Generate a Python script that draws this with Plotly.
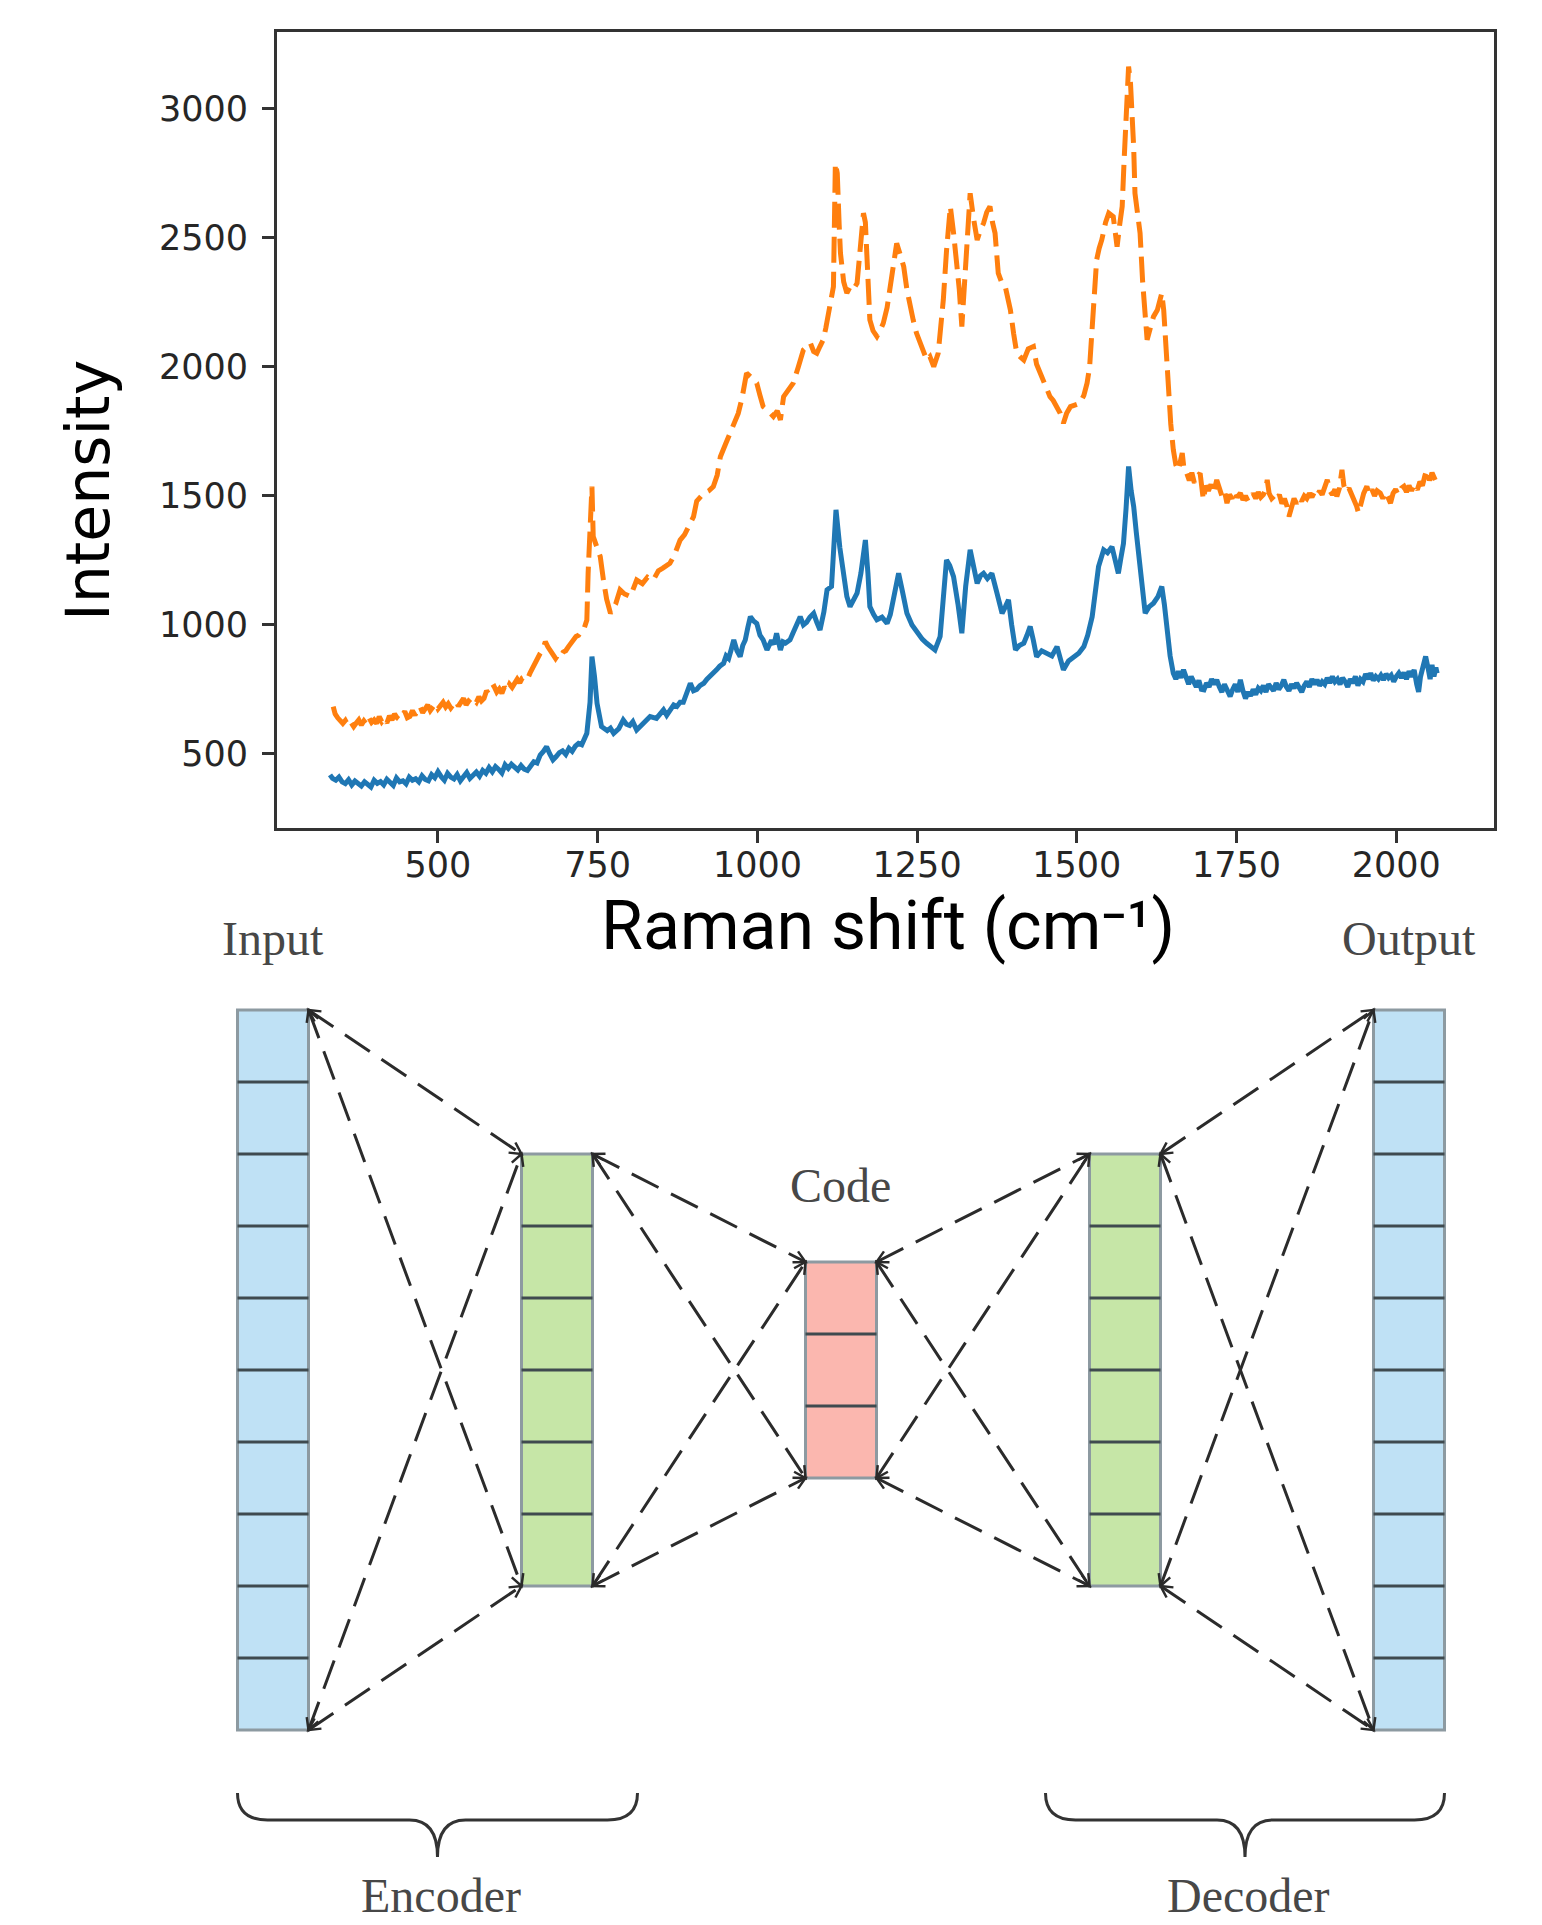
import math
import plotly.graph_objects as go

W, H = 1542, 1925

# ---------------- spectrum data, (Raman shift, intensity) ----------------
blue_low = [(331, 419), (335, 405), (340, 398), (345, 410), (350, 392), (355, 385), (360, 400), (365, 380),
            (370, 395), (375, 388), (380, 376), (385, 392), (390, 384), (395, 372), (400, 398), (405, 386),
            (410, 393), (415, 380), (420, 402), (425, 390), (430, 378), (435, 407), (440, 392), (445, 396),
            (450, 384), (455, 410), (460, 398), (465, 404), (470, 392), (475, 415), (480, 401), (485, 396),
            (490, 420), (495, 408), (500, 431), (505, 412), (510, 398), (515, 425), (520, 410), (525, 403),
            (530, 420), (535, 396), (540, 415), (545, 428), (550, 405), (555, 419), (560, 430), (565, 414),
            (570, 436), (575, 425), (580, 447), (585, 431), (590, 451), (595, 440), (600, 426), (605, 458),
            (610, 444), (615, 460), (620, 447), (625, 438), (630, 455), (635, 441), (640, 436), (645, 452),
            (650, 470), (655, 465), (660, 496), (665, 510), (670, 528), (675, 500), (680, 477), (685, 490),
            (690, 505), (695, 512), (700, 498), (705, 522), (710, 510), (715, 530), (720, 541), (725, 536),
            (730, 560)]
blue_mid = [(733, 580), (738, 700), (741, 877), (745, 800), (749, 696), (756, 606), (765, 590), (770, 600),
            (775, 580), (783, 598), (790, 632), (795, 615), (800, 610), (805, 625), (811, 593), (820, 615),
            (826, 630), (832, 645), (842, 638), (848, 660), (853, 671), (858, 650), (863, 665), (869, 690),
            (874, 684), (879, 700), (884, 700), (890, 735), (895, 774), (900, 745), (905, 750), (910, 765),
            (916, 774), (921, 790), (926, 800), (931, 815), (936, 826), (941, 840), (947, 851), (951, 880),
            (955, 870), (959, 905), (963, 942), (968, 900), (973, 877), (977, 920), (981, 942), (985, 990),
            (989, 1032), (994, 1015), (999, 1006), (1004, 960), (1009, 942), (1015, 903), (1022, 940),
            (1026, 925), (1030, 968), (1036, 903), (1040, 935), (1044, 930), (1051, 942), (1055, 965),
            (1059, 985), (1063, 1010), (1067, 1032), (1072, 1000), (1077, 1010), (1082, 1030), (1088, 1045),
            (1093, 1010), (1098, 980), (1104, 1050), (1109, 1136), (1116, 1149), (1123, 1446), (1129, 1300),
            (1135, 1187), (1140, 1110), (1145, 1071), (1150, 1100), (1156, 1123), (1162, 1200), (1169, 1329),
            (1173, 1200), (1176, 1071), (1182, 1040), (1187, 1020), (1195, 1030), (1203, 1006), (1208, 1040),
            (1213, 1097), (1221, 1200), (1227, 1130), (1234, 1045), (1242, 1000), (1250, 968), (1258, 945),
            (1265, 929), (1272, 915), (1278, 903), (1286, 955), (1291, 1100), (1296, 1252), (1301, 1230),
            (1307, 1187), (1314, 1080), (1320, 968), (1326, 1150), (1333, 1291), (1339, 1220), (1344, 1161),
            (1349, 1190), (1354, 1200), (1360, 1180), (1367, 1200), (1375, 1123), (1383, 1045), (1388, 1070),
            (1393, 1097), (1398, 1000), (1404, 903), (1410, 920), (1417, 929), (1422, 960), (1427, 994),
            (1432, 940), (1437, 877), (1445, 900), (1453, 890), (1461, 880), (1469, 916), (1474, 870),
            (1479, 826), (1487, 860), (1495, 877), (1503, 890), (1511, 916), (1517, 960), (1524, 1032),
            (1529, 1130), (1534, 1226), (1542, 1291), (1548, 1280), (1555, 1303), (1560, 1260), (1565, 1200),
            (1569, 1260), (1573, 1316), (1577, 1450), (1581, 1614), (1585, 1520), (1589, 1459), (1593, 1360),
            (1597, 1278), (1602, 1150), (1607, 1045), (1613, 1070), (1620, 1084), (1627, 1110), (1633, 1149),
            (1637, 1080), (1641, 968), (1646, 880)]
blue_tail = [(1651, 813), (1655, 790), (1659, 820), (1663, 795), (1667, 826), (1671, 790), (1675, 770),
             (1679, 800), (1683, 774), (1687, 760), (1691, 785), (1695, 750), (1699, 748), (1703, 775),
             (1707, 760), (1711, 790), (1715, 770), (1719, 787), (1723, 760), (1727, 740), (1731, 770),
             (1735, 745), (1740, 723), (1744, 750), (1748, 770), (1752, 740), (1756, 787), (1760, 745),
             (1764, 715), (1768, 740), (1772, 725), (1776, 750), (1780, 730), (1784, 755), (1788, 745),
             (1792, 765), (1796, 740), (1800, 770), (1804, 760), (1808, 745), (1812, 775), (1816, 750),
             (1820, 765), (1824, 787), (1828, 760), (1832, 745), (1836, 770), (1840, 755), (1844, 775),
             (1848, 760), (1852, 740), (1856, 765), (1860, 780), (1864, 760), (1868, 790), (1872, 770),
             (1876, 787), (1880, 765), (1884, 780), (1888, 770), (1892, 795), (1896, 775), (1900, 800),
             (1904, 780), (1908, 790), (1912, 770), (1916, 795), (1920, 780), (1924, 760), (1928, 790),
             (1932, 775), (1936, 800), (1940, 765), (1944, 790), (1948, 780), (1952, 810), (1956, 790),
             (1960, 813), (1964, 785), (1968, 800), (1972, 790), (1976, 805), (1980, 787), (1984, 810),
             (1988, 795), (1992, 805), (1996, 780), (2000, 800), (2004, 813), (2008, 795), (2012, 815),
             (2016, 790), (2020, 820), (2024, 800), (2028, 826), (2032, 770), (2035, 740), (2038, 800),
             (2042, 845), (2046, 878), (2050, 830), (2053, 790), (2056, 845), (2059, 800), (2062, 835),
             (2064, 813)]

orange_low = [(336, 683), (339, 655), (343, 640), (347, 632), (351, 618), (355, 630), (359, 612), (363, 625),
              (368, 606), (372, 620), (376, 632), (380, 612), (384, 628), (388, 615), (392, 640), (396, 622),
              (400, 632), (404, 618), (408, 645), (412, 625), (416, 638), (420, 620), (424, 648), (428, 632),
              (432, 655), (436, 640), (440, 632), (444, 650), (448, 665), (452, 640), (456, 645), (460, 668),
              (464, 650), (468, 675), (472, 683), (476, 660), (480, 672), (484, 690), (488, 668), (492, 680),
              (496, 695), (500, 675), (504, 690), (508, 700), (512, 682), (516, 695), (520, 678), (524, 696),
              (528, 705), (532, 685), (536, 700), (540, 715), (544, 690), (548, 705), (552, 696), (556, 710),
              (560, 700), (564, 722), (568, 705), (572, 715), (576, 745), (580, 730), (584, 755), (588, 761),
              (592, 740), (596, 752), (600, 735), (604, 760), (608, 745), (612, 770), (616, 758), (620, 774),
              (624, 790), (628, 775), (632, 795), (636, 800), (640, 790), (644, 813), (648, 835), (652, 850),
              (656, 870), (660, 890), (664, 905), (668, 935), (672, 915), (676, 900), (680, 890), (684, 870),
              (688, 885), (692, 877), (696, 895), (700, 900), (704, 915), (708, 930), (712, 942), (716, 955),
              (720, 960), (724, 975), (728, 981), (731, 1000), (733, 1019)]
orange_mid = [(735, 1200), (738, 1400), (741, 1536), (743, 1342), (748, 1300), (754, 1265), (759, 1174),
              (764, 1100), (770, 1045), (778, 1080), (785, 1136), (792, 1120), (801, 1110), (806, 1150),
              (811, 1174), (820, 1160), (828, 1185), (837, 1174), (845, 1210), (852, 1220), (863, 1239),
              (870, 1270), (879, 1329), (886, 1350), (895, 1394), (900, 1420), (905, 1480), (910, 1497),
              (916, 1510), (924, 1520), (931, 1536), (937, 1580), (942, 1652), (950, 1700), (957, 1743),
              (963, 1770), (970, 1820), (976, 1880), (983, 1976), (990, 1960), (999, 1937), (1004, 1890),
              (1009, 1846), (1017, 1830), (1025, 1808), (1031, 1830), (1036, 1795), (1041, 1885), (1048, 1910),
              (1056, 1937), (1064, 2000), (1072, 2066), (1078, 2080), (1083, 2092), (1088, 2060), (1093, 2053),
              (1098, 2080), (1103, 2105), (1107, 2150), (1111, 2208), (1116, 2260), (1119, 2311), (1122, 2789),
              (1125, 2750), (1128, 2550), (1130, 2441), (1135, 2330), (1140, 2286), (1145, 2310), (1150, 2300),
              (1156, 2324), (1161, 2450), (1166, 2596), (1169, 2560), (1171, 2415), (1176, 2182), (1181, 2140),
              (1187, 2118), (1192, 2140), (1197, 2169), (1203, 2230), (1208, 2311), (1213, 2400), (1218, 2479),
              (1223, 2440), (1229, 2389), (1234, 2300), (1239, 2234), (1244, 2180), (1249, 2131), (1256, 2080),
              (1265, 2027), (1270, 2040), (1276, 2001), (1283, 2053), (1287, 2150), (1291, 2260), (1296, 2450),
              (1302, 2622), (1307, 2520), (1312, 2415), (1316, 2300), (1320, 2156), (1325, 2389), (1329, 2550),
              (1333, 2673), (1338, 2580), (1344, 2492), (1349, 2530), (1354, 2557), (1359, 2600), (1364, 2622),
              (1368, 2560), (1372, 2518), (1377, 2363), (1382, 2330), (1388, 2311), (1392, 2260), (1396, 2221),
              (1401, 2130), (1406, 2053), (1411, 2040), (1417, 2027), (1424, 2070), (1432, 2079), (1437, 2010),
              (1443, 1976), (1450, 1930), (1458, 1885), (1463, 1870), (1469, 1846), (1474, 1820), (1479, 1782),
              (1484, 1820), (1490, 1846), (1497, 1850), (1505, 1859), (1511, 1890), (1516, 1937), (1520, 2000),
              (1524, 2131), (1528, 2300), (1531, 2415), (1535, 2460), (1539, 2492), (1545, 2560), (1550, 2596),
              (1557, 2583), (1563, 2466), (1567, 2550), (1571, 2622), (1574, 2800), (1576, 2932), (1579, 3080),
              (1581, 3164), (1584, 3100), (1586, 3022), (1589, 2850), (1591, 2673), (1595, 2600), (1599, 2518),
              (1603, 2330), (1607, 2156), (1610, 2105), (1615, 2150), (1620, 2195), (1626, 2220), (1633, 2286),
              (1636, 2220), (1638, 2131), (1641, 2000), (1644, 1898), (1647, 1780)]
orange_tail = [(1651, 1679), (1655, 1620), (1659, 1600), (1662, 1640), (1665, 1666), (1668, 1600), (1672, 1588),
               (1676, 1560), (1680, 1590), (1684, 1550), (1688, 1575), (1693, 1588), (1696, 1530), (1698, 1485),
               (1702, 1540), (1706, 1520), (1710, 1545), (1714, 1510), (1719, 1562), (1723, 1530), (1727, 1500),
               (1731, 1520), (1735, 1472), (1739, 1505), (1743, 1490), (1747, 1520), (1751, 1495), (1756, 1511),
               (1760, 1485), (1764, 1500), (1768, 1480), (1772, 1485), (1776, 1510), (1780, 1490), (1784, 1515),
               (1788, 1495), (1792, 1505), (1796, 1530), (1798, 1562), (1801, 1510), (1805, 1490), (1809, 1500),
               (1813, 1485), (1817, 1505), (1821, 1470), (1825, 1490), (1829, 1460), (1832, 1420), (1836, 1465),
               (1840, 1490), (1844, 1470), (1848, 1495), (1852, 1480), (1856, 1500), (1860, 1490), (1864, 1510),
               (1868, 1495), (1872, 1515), (1876, 1500), (1880, 1520), (1884, 1505), (1888, 1530), (1892, 1562),
               (1896, 1520), (1900, 1505), (1904, 1525), (1907, 1498), (1911, 1530), (1915, 1601), (1918, 1540),
               (1922, 1515), (1926, 1530), (1930, 1505), (1934, 1490), (1938, 1460), (1941, 1433), (1945, 1480),
               (1949, 1510), (1954, 1537), (1958, 1505), (1962, 1525), (1966, 1500), (1970, 1520), (1975, 1511),
               (1979, 1490), (1983, 1515), (1987, 1495), (1991, 1472), (1995, 1510), (1999, 1525), (2003, 1505),
               (2008, 1530), (2012, 1537), (2016, 1515), (2020, 1540), (2024, 1520), (2028, 1545), (2033, 1524),
               (2037, 1555), (2041, 1540), (2045, 1580), (2048, 1601), (2052, 1560), (2056, 1590), (2061, 1562)]

blue_x = [p[0] for p in blue_low + blue_mid + blue_tail]
blue_y = [p[1] for p in blue_low + blue_mid + blue_tail]
orange_x = [p[0] for p in orange_low + orange_mid + orange_tail]
orange_y = [p[1] for p in orange_low + orange_mid + orange_tail]

x_ticks = [500, 750, 1000, 1250, 1500, 1750, 2000]
y_ticks = [500, 1000, 1500, 2000, 2500, 3000]
x_title = "Raman shift (cm\u207b\u00b9)"
y_title = "Intensity"

# ---------------- autoencoder diagram data ----------------
layer_cells = [10, 6, 3, 6, 10]
layer_fill = ["#bfe1f5", "#c6e6a7", "#fbb7af", "#c6e6a7", "#bfe1f5"]
layer_labels = ["Input", "", "Code", "", "Output"]
group_labels = ["Encoder", "Decoder"]

# ---------------- layout geometry (pixels) ----------------
PLOT_L, PLOT_R, PLOT_T, PLOT_B = 277, 1494, 32, 828
X_RANGE = [248, 2153]
Y_RANGE = [213, 3298]

CX0, DX, BOX_W, CELL_H, CY = 273, 284, 71, 72, 1370


def P(px, py):
    return px / W, 1 - py / H


fig = go.Figure()
fig.add_trace(go.Scatter(x=blue_x, y=blue_y, mode="lines",
                         line=dict(color="#1f77b4", width=5), showlegend=False))
fig.add_trace(go.Scatter(x=orange_x, y=orange_y, mode="lines",
                         line=dict(color="#ff7f0e", width=5, dash="26px,9px"), showlegend=False))

axis_common = dict(showgrid=False, zeroline=False, showline=True, mirror=True,
                   linecolor="#333333", linewidth=3, ticks="outside", ticklen=12,
                   tickwidth=2.5, tickcolor="#333333",
                   tickfont=dict(family="DejaVu Sans", size=35, color="#262626"))

fig.update_layout(
    width=W, height=H, autosize=False,
    margin=dict(l=0, r=0, t=0, b=0),
    paper_bgcolor="white", plot_bgcolor="white",
    xaxis=dict(domain=[PLOT_L / W, PLOT_R / W], range=X_RANGE, tickvals=x_ticks,
               ticklabelstandoff=-8, **axis_common),
    yaxis=dict(domain=[1 - PLOT_B / H, 1 - PLOT_T / H], range=Y_RANGE, tickvals=y_ticks,
               ticklabelstandoff=7, **axis_common),
)

shapes = []
annotations = []

# axis titles
tx, ty = P(888, 926)
annotations.append(dict(text=x_title, x=tx, y=ty, xref="paper", yref="paper", showarrow=False,
                        xanchor="center", yanchor="middle",
                        font=dict(family="Roboto", size=68, color="black")))
tx, ty = P(88, 491)
annotations.append(dict(text=y_title, x=tx, y=ty, xref="paper", yref="paper", showarrow=False,
                        textangle=-90, xanchor="center", yanchor="middle",
                        font=dict(family="DejaVu Sans", size=60, color="black")))

# boxes
boxes = []
for i, n in enumerate(layer_cells):
    cx = CX0 + i * DX
    top = CY - n * CELL_H / 2
    bot = CY + n * CELL_H / 2
    l, r = cx - BOX_W / 2, cx + BOX_W / 2
    boxes.append((l, r, top, bot))
    x0, y0 = P(l, bot)
    x1, y1 = P(r, top)
    shapes.append(dict(type="rect", xref="paper", yref="paper", x0=x0, y0=y0, x1=x1, y1=y1,
                       fillcolor=layer_fill[i], line=dict(color="#8d9aa1", width=3), layer="below"))
    for k in range(1, n):
        yy = top + k * CELL_H
        a0, b0 = P(l, yy)
        a1, b1 = P(r, yy)
        shapes.append(dict(type="line", xref="paper", yref="paper", x0=a0, y0=b0, x1=a1, y1=b1,
                           line=dict(color="#3f4a4f", width=3)))
    if layer_labels[i]:
        ly = top - 72 if n > 3 else top - 77
        lx_, ly_ = P(cx, ly)
        annotations.append(dict(text=layer_labels[i], x=lx_, y=ly_, xref="paper", yref="paper",
                                showarrow=False, xanchor="center", yanchor="middle",
                                font=dict(family="Liberation Serif", size=48, color="#474747")))


def arrow_head(p, q, length=13, ang=28):
    dx, dy = q[0] - p[0], q[1] - p[1]
    d = math.hypot(dx, dy)
    ux, uy = dx / d, dy / d
    pts = []
    for s in (1, -1):
        a = math.radians(ang) * s
        bx = -(ux * math.cos(a) - uy * math.sin(a)) * length
        by = -(ux * math.sin(a) + uy * math.cos(a)) * length
        pts.append((q[0] + bx, q[1] + by))
    path = "M {} {} L {} {} L {} {}".format(*P(*pts[0]), *P(*q), *P(*pts[1]))
    return dict(type="path", xref="paper", yref="paper", path=path,
                line=dict(color="#2a2a2a", width=2.5))


for i in range(len(boxes) - 1):
    l0, r0, t0, b0 = boxes[i]
    l1, r1, t1, b1 = boxes[i + 1]
    for pa in [(r0, t0), (r0, b0)]:
        for pb in [(l1, t1), (l1, b1)]:
            a0, c0 = P(*pa)
            a1, c1 = P(*pb)
            shapes.append(dict(type="line", xref="paper", yref="paper", x0=a0, y0=c0, x1=a1, y1=c1,
                               line=dict(color="#2b2b2b", width=3, dash="30px,14px")))
            shapes.append(arrow_head(pa, pb))
            shapes.append(arrow_head(pb, pa))

# braces
brace_spans = [(boxes[0][0], boxes[1][1] + 45), (boxes[3][0] - 44, boxes[4][1])]
BR_TOP, BR_MID, BR_TIP = 1793, 1820, 1857
for (xa, xb), lab in zip(brace_spans, group_labels):
    xm = (xa + xb) / 2
    pts = [("M", xa, BR_TOP), ("Q", xa, BR_MID), ("", xa + 30, BR_MID), ("L", xm - 28, BR_MID),
           ("Q", xm, BR_MID), ("", xm, BR_TIP), ("Q", xm, BR_MID), ("", xm + 28, BR_MID),
           ("L", xb - 30, BR_MID), ("Q", xb, BR_MID), ("", xb, BR_TOP)]
    path = " ".join("{} {:.6f} {:.6f}".format(c, *P(x, y)) if c else "{:.6f} {:.6f}".format(*P(x, y))
                    for c, x, y in pts)
    shapes.append(dict(type="path", xref="paper", yref="paper", path=path,
                       line=dict(color="#333333", width=3)))
    lx_, ly_ = P(xm + 3, 1924)
    annotations.append(dict(text=lab, x=lx_, y=ly_, xref="paper", yref="paper", showarrow=False,
                            xanchor="center", yanchor="bottom",
                            font=dict(family="Liberation Serif", size=48, color="#474747")))

fig.update_layout(shapes=shapes, annotations=annotations)
fig.write_html("out.html", config={"displayModeBar": False},
               post_script="document.body.style.margin='0px';")
